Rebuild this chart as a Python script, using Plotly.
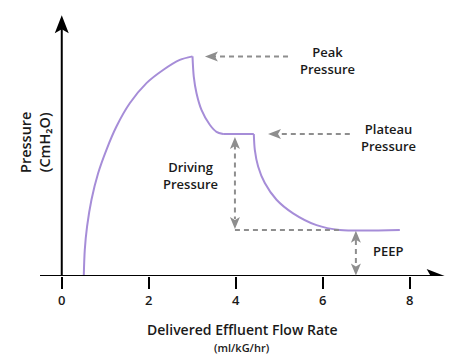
import plotly.graph_objects as go

# ---- data ----
# inspiration (rise to peak)
x_rise = [0.506, 0.529, 0.582, 0.683, 0.834, 1.027, 1.257, 1.563, 1.947, 2.329, 2.713, 3.005]
y_rise = [0.0, 5.9, 11.3, 17.4, 23.4, 28.8, 34.1, 39.4, 44.0, 47.0, 49.3, 50.1]
# fall from peak to plateau
x_fall = [3.005, 3.034, 3.097, 3.211, 3.402, 3.556, 3.708, 4.414]
y_fall = [50.1, 45.5, 41.7, 37.9, 34.5, 32.9, 32.4, 32.4]
# decay from plateau to PEEP
x_decay = [4.414, 4.437, 4.513, 4.667, 4.936, 5.317, 5.855, 6.391, 7.77]
y_decay = [32.4, 28.8, 25.0, 21.2, 17.4, 14.3, 11.6, 10.5, 10.5]

tick_vals = [0, 2, 4, 6, 8]
tick_text = ["0", "2", "4", "6", "8"]

peak = 50.1
plateau = 32.4
peep = 10.5

x_title = "Delivered Effluent Flow Rate"
x_subtitle = "(ml/kG/hr)"
y_title = "Pressure<br>(CmH₂O)"

# ---- styling ----
FONT = "Open Sans"
TXT = "#1a1a1a"
PURPLE = "#a68dd8"
GRAY = "#8e8e8e"

fig = go.Figure()
for xs, ys in [(x_rise, y_rise), (x_fall[:-1], y_fall[:-1]), (x_decay, y_decay)]:
    fig.add_trace(go.Scatter(x=xs, y=ys, mode="lines",
                             line=dict(color=PURPLE, width=2, shape="spline", smoothing=0.8),
                             hoverinfo="skip", showlegend=False))
# plateau segment
fig.add_trace(go.Scatter(x=x_fall[-2:], y=y_fall[-2:], mode="lines",
                         line=dict(color=PURPLE, width=2), hoverinfo="skip",
                         showlegend=False))

shapes = []
annotations = []


def head(x, y, direction, color, length, half, notch):
    """Arrowhead path (pixels) with tip at data point (x, y)."""
    if direction == "left":
        pts = [(0, 0), (length, half), (length - notch, 0), (length, -half)]
    elif direction == "right":
        pts = [(0, 0), (-length, half), (-length + notch, 0), (-length, -half)]
    elif direction == "up":
        pts = [(0, 0), (half, -length), (0, -length + notch), (-half, -length)]
    else:  # down
        pts = [(0, 0), (half, length), (0, length - notch), (-half, length)]
    path = "M " + " L ".join(f"{px},{py}" for px, py in pts) + " Z"
    shapes.append(dict(type="path", xref="x", yref="y", xsizemode="pixel",
                       ysizemode="pixel", xanchor=x, yanchor=y, path=path,
                       fillcolor=color, line=dict(width=0)))


def dline(x0, y0, x1, y1, color=GRAY, width=2, dash="5px,4px"):
    shapes.append(dict(type="line", xref="x", yref="y", x0=x0, y0=y0, x1=x1, y1=y1,
                       line=dict(color=color, width=width, dash=dash)))


# axes drawn as lines with arrowheads
dline(-0.5, 0, 8.6, 0, color="black", width=2, dash="solid")
head(8.8, 0, "right", "black", 18, 7, 4)
dline(0, 0, 0, 57.5, color="black", width=2, dash="solid")
head(0, 59.5, "up", "black", 18, 7, 4)

# peak pressure arrow
dline(5.20, peak, 3.45, peak)
head(3.29, peak, "left", GRAY, 13, 5, 3)
# plateau pressure arrow
dline(6.62, plateau, 4.90, plateau)
head(4.74, plateau, "left", GRAY, 13, 5, 3)
# driving pressure double arrow
dline(3.98, 30.0, 3.98, 13.0)
head(3.98, 31.7, "up", GRAY, 12, 5, 3)
head(3.98, 10.7, "down", GRAY, 12, 5, 3)
# horizontal dashed at PEEP level
dline(3.98, peep, 6.39, peep)
# PEEP double arrow
dline(6.76, peep - 2.3, 6.76, 2.3)
head(6.76, peep - 0.2, "up", GRAY, 12, 5, 3)
head(6.76, 0.1, "down", GRAY, 12, 5, 3)

lab_font = dict(family=FONT, size=13, color=TXT, weight=600)


def label(x, y, text, size=13, angle=0, ref="data"):
    xr, yr = ("x", "y") if ref == "data" else ("paper", "paper")
    annotations.append(dict(x=x, y=y, xref=xr, yref=yr, text=text, showarrow=False,
                            align="center", textangle=angle,
                            xanchor="center", yanchor="middle",
                            font=dict(family=FONT, size=size, color=TXT, weight=600)))


label(6.11, 49.1, "Peak<br>Pressure")
label(7.52, 31.7, "Plateau<br>Pressure")
label(2.97, 23.0, "Driving<br>Pressure")
label(7.52, 5.7, "PEEP")
label(-0.012, 0.506, y_title, size=14.5, angle=-90, ref="paper")
label(0.494, -0.205, x_title, size=14, ref="paper")
label(0.494, -0.272, x_subtitle, size=11, ref="paper")

fig.update_layout(
    width=474, height=356,
    margin=dict(l=40, r=25, t=13, b=80),
    paper_bgcolor="white", plot_bgcolor="white",
    shapes=shapes, annotations=annotations,
    xaxis=dict(range=[-0.5, 8.9], showgrid=False, zeroline=False, showline=False,
               tickvals=tick_vals, ticktext=tick_text, ticks="outside", ticklen=12,
               tickwidth=2, tickcolor="black", tickfont=lab_font, fixedrange=True),
    yaxis=dict(range=[0, 60], visible=False, fixedrange=True),
    font=dict(family=FONT, color=TXT),
)

fig.write_html("out.html", config={"displayModeBar": False},
               post_script="document.body.style.margin='0';document.body.style.overflow='hidden';")
